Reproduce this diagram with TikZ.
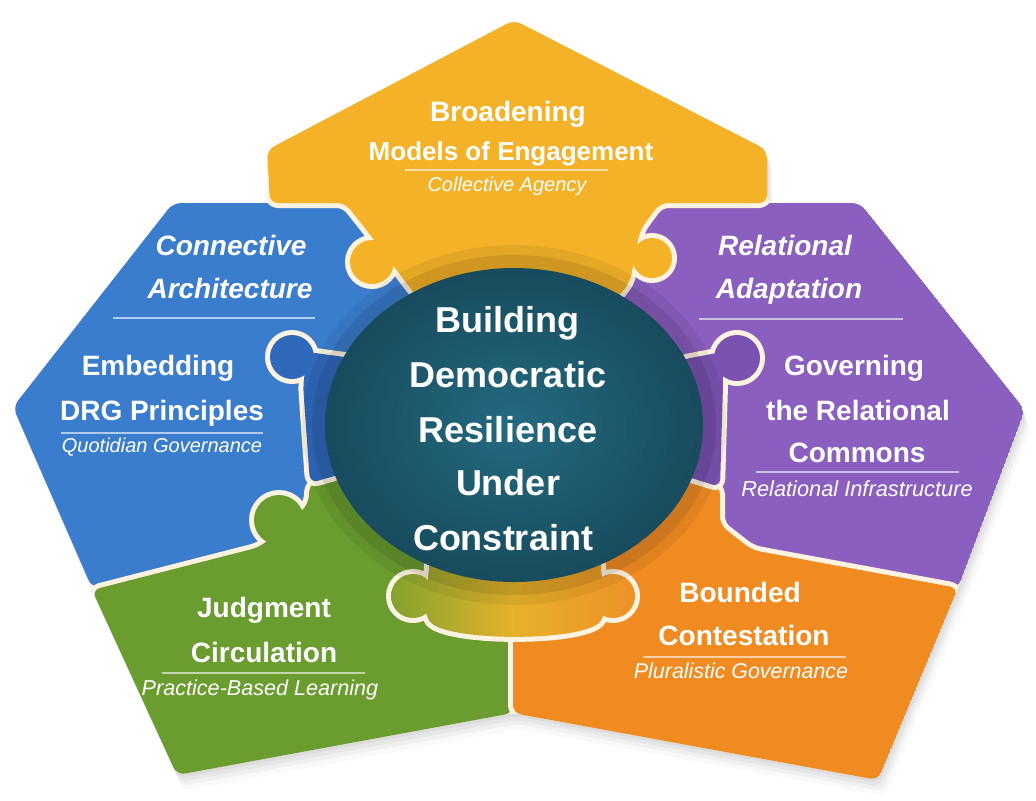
\documentclass[tikz,border=0pt]{standalone}
\usepackage{fontspec}
\setmainfont{Liberation Sans}
\definecolor{cYellow}{HTML}{F3B228}
\definecolor{cBlue}{HTML}{3A7DCD}
\definecolor{cBlueD}{HTML}{3068BA}
\definecolor{cPurple}{HTML}{8A5FBF}
\definecolor{cPurpleD}{HTML}{7A53B2}
\definecolor{cGreen}{HTML}{6A9C30}
\definecolor{cOrange}{HTML}{F08B22}
\definecolor{cTealIn}{HTML}{246A80}
\definecolor{cTealOut}{HTML}{184B5D}
\definecolor{cCream}{HTML}{FDF3E0}
\definecolor{bandL}{HTML}{7FA22E}
\definecolor{bandM}{HTML}{E6B22A}
\definecolor{bandR}{HTML}{EE9026}
\begin{document}
\begin{tikzpicture}[x=0.5pt,y=-0.5pt,
  edge/.style={draw=cCream, line width=5pt, line join=round},
  ttl/.style={text=white, font=\fontsize{14}{16}\selectfont\bfseries, anchor=base, inner sep=0pt},
  ittl/.style={text=white, font=\fontsize{14}{16}\selectfont\bfseries\itshape, anchor=base, inner sep=0pt},
  subtxt/.style={text=white, font=\fontsize{10}{12}\selectfont\itshape, anchor=base, inner sep=0pt},
  maintxt/.style={text=white, font=\fontsize{18}{20}\selectfont\bfseries, anchor=base, inner sep=0pt},
  sep/.style={draw=white, opacity=0.6, line width=0.6pt},
  rc/.style={rounded corners=4pt}]
\useasboundingbox (0,0) rectangle (1036,800);
\fill[white] (0,0) rectangle (1036,800);

% outer shape for the soft shadow
\def\pOuter{(514,20) -- (767,150) -- (767,203) -- (860,203) -- (1025,410) -- (958,588) -- (878,780) -- (513,713) -- (177,775) -- (92,590) -- (13,407) -- (173,203) -- (267,203) -- (267,150) -- cycle}
\foreach \s/\o in {16/0.025,11/0.035,7/0.04,3/0.045}{
  \begin{scope}[shift={(\s*0.4,\s)}]
    \fill[black, opacity=\o, rc] \pOuter;
  \end{scope}
}

% piece outlines
\def\pBlue{(173,203) -- (345,203) -- (365,228) -- (398,272) -- (515,425) -- (310,483) -- (308,505) -- (260,547) -- (92,588) -- (13,407) -- cycle}
\def\pPurple{(640,230) -- (660,203) -- (860,203) -- (1025,410) -- (958,588) -- (752,550) -- (720,525) -- (720,487) -- (700,478) -- (515,425) -- (630,282) -- cycle}
\def\pYellow{(514,20) -- (767,150) -- (767,203) -- (660,203) -- (640,230) -- (630,282) -- (515,425) -- (398,272) -- (365,228) -- (345,203) -- (270,203) -- (267,150) -- cycle}
\def\kYellow{(372,262) circle (22) (652,258) circle (20)}
\def\pGreen{(92,590) -- (260,547) -- (308,505) -- (310,483) -- (515,425) -- (513,640) -- (513,713) -- (177,775) -- cycle}
\def\kGreen{(279,520) circle (25)}
\def\pOrange{(515,425) -- (700,478) -- (720,487) -- (720,525) -- (752,550) -- (958,588) -- (878,780) -- (513,713) -- (513,640) -- cycle}
\def\pBlueIn{(308,352) -- (352,358) -- (345,473) -- (310,483) -- (303,385) -- cycle}
\def\kBlueIn{(292,357) circle (22)}
\def\pPurpleIn{(722,352) -- (680,360) -- (685,476) -- (720,487) -- (723,385) -- cycle}
\def\kPurpleIn{(737,358) circle (23)}
\def\pBand{(430,555) -- (600,555) -- (605,615) .. controls (585,642) and (445,642) .. (425,615) -- cycle}
\def\kBand{(413,596) circle (22) (613,596) circle (22)}

\begin{scope}
\clip[rc] \pOuter;
% blue
\path[edge, rc] \pBlue;
\fill[cBlue, rc] \pBlue;
% purple
\path[edge, rc] \pPurple;
\fill[cPurple, rc] \pPurple;
% yellow with knobs
\path[edge, rc] \pYellow;
\path[edge] \kYellow;
\fill[cYellow, rc] \pYellow;
\fill[cYellow] \kYellow;
% green with knob
\path[edge, rc] \pGreen;
\path[edge] \kGreen;
\fill[cGreen, rc] \pGreen;
\fill[cGreen] \kGreen;
% orange
\path[edge, rc] \pOrange;
\fill[cOrange, rc] \pOrange;
% inner blue piece
\path[edge, rc] \pBlueIn;
\path[edge] \kBlueIn;
\fill[cBlueD, rc] \pBlueIn;
\fill[cBlueD] \kBlueIn;
% inner purple piece
\path[edge, rc] \pPurpleIn;
\path[edge] \kPurpleIn;
\fill[cPurpleD, rc] \pPurpleIn;
\fill[cPurpleD] \kPurpleIn;
% band under the hub
\path[edge, rc] \pBand;
\path[edge] \kBand;
\begin{scope}
  \clip[rc] \pBand;
  \shade[left color=bandL, right color=bandR, middle color=bandM] (388,540) rectangle (638,650);
\end{scope}
\begin{scope}
  \clip \kBand;
  \shade[left color=bandL, right color=bandR, middle color=bandM] (388,540) rectangle (638,650);
\end{scope}
% shadow ring around the hub
\fill[black, opacity=0.06] (514,425) ellipse [x radius=212, y radius=180];
\fill[black, opacity=0.09] (514,425) ellipse [x radius=202, y radius=170];
\end{scope}

% hub
\shade[inner color=cTealIn, outer color=cTealOut] (514,425) ellipse [x radius=189, y radius=157];

% top piece text
\node[ttl] (b1) at (508,121) {Broadening};
\node[ttl, font=\fontsize{13}{15}\selectfont\bfseries] (b2) at (511,160) {Models of Engagement};
\coordinate (b4) at (405,170); \coordinate (b5) at (608,170);
\draw[sep] (b4) -- (b5);
\node[subtxt] (b3) at (507,191) {Collective Agency};

% left piece text
\node[ittl] (c1) at (231,255) {Connective};
\node[ittl] (c2) at (230,298) {Architecture};
\coordinate (c6) at (113,318); \coordinate (c7) at (315,318);
\draw[sep] (c6) -- (c7);
\node[ttl] (c3) at (158,375) {Embedding};
\node[ttl] (c4) at (162,420) {DRG Principles};
\coordinate (c8) at (61,433); \coordinate (c9) at (263,433);
\draw[sep] (c8) -- (c9);
\node[subtxt] (c5) at (162,452) {Quotidian Governance};

% right piece text
\node[ittl] (r1) at (785,255) {Relational};
\node[ittl] (r2) at (789,298) {Adaptation};
\coordinate (r7) at (699,319); \coordinate (r8) at (903,319);
\draw[sep] (r7) -- (r8);
\node[ttl] (r3) at (854,375) {Governing};
\node[ttl] (r4) at (858,420) {the Relational};
\node[ttl] (r5) at (857,462) {Commons};
\coordinate (r9) at (756,472); \coordinate (r10) at (959,472);
\draw[sep] (r9) -- (r10);
\node[subtxt, font=\fontsize{10.9}{12}\selectfont\itshape] (r6) at (857,496) {Relational Infrastructure};

% green piece text
\node[ttl] (g1) at (264,617) {Judgment};
\node[ttl] (g2) at (264,662) {Circulation};
\coordinate (g4) at (162,673); \coordinate (g5) at (365,673);
\draw[sep] (g4) -- (g5);
\node[subtxt, font=\fontsize{10.8}{12}\selectfont\itshape] (g3) at (260,695) {Practice-Based Learning};

% orange piece text
\node[ttl] (o1) at (740,602) {Bounded};
\node[ttl] (o2) at (744,645) {Contestation};
\coordinate (o4) at (643,657); \coordinate (o5) at (846,657);
\draw[sep] (o4) -- (o5);
\node[subtxt, font=\fontsize{10.7}{12}\selectfont\itshape] (o3) at (741,678) {Pluralistic Governance};

% hub text
\node[maintxt] (m1) at (507,332) {Building};
\node[maintxt] (m2) at (508,387) {Democratic};
\node[maintxt] (m3) at (508,442) {Resilience};
\node[maintxt] (m4) at (508,495) {Under};
\node[maintxt] (m5) at (503,550) {Constraint};
\end{tikzpicture}
\end{document}
